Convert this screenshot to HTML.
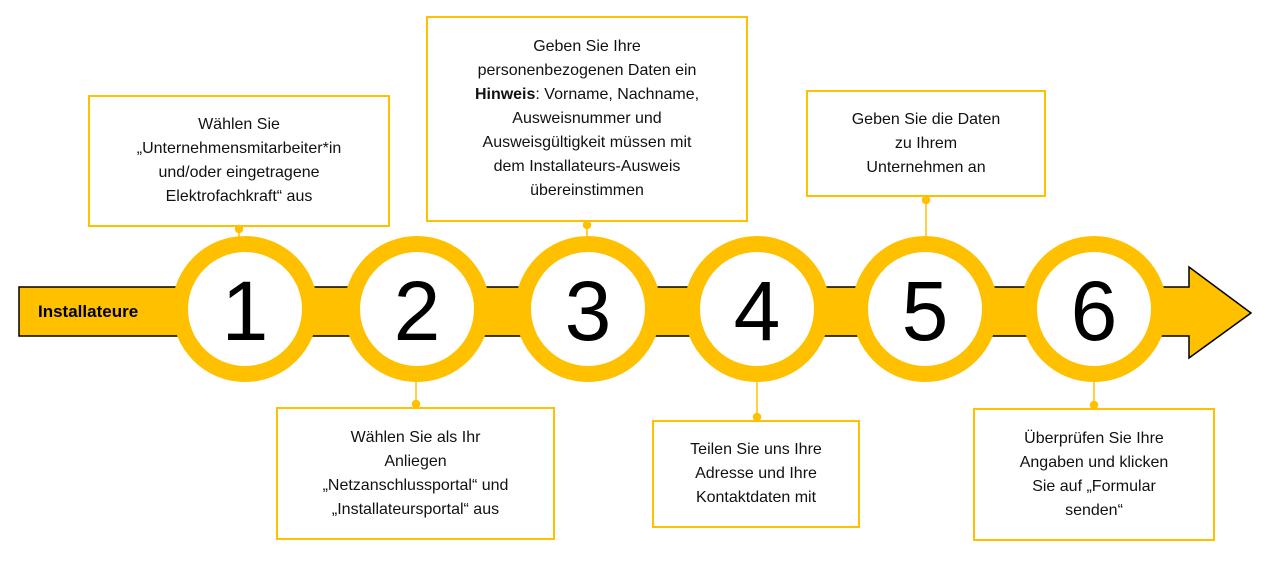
<!DOCTYPE html>
<html><head><meta charset="utf-8"><style>
body{margin:0;width:1280px;height:563px;background:#fff;position:relative;overflow:hidden;font-family:"Liberation Sans",sans-serif}
.b{position:absolute;border:2px solid #FFC000;box-sizing:border-box;display:flex;align-items:center;justify-content:center;text-align:center;font-size:16px;line-height:24px;color:#111}
.b>div{width:100%}
</style></head><body>
<svg width="1280" height="563" style="position:absolute;left:0;top:0">
<g stroke="#FFC000" stroke-width="1.5" fill="#FFC000">
<line x1="239" y1="227" x2="239" y2="240"/><circle cx="239" cy="229" r="3.5"/>
<line x1="587" y1="222" x2="587" y2="240"/><circle cx="587" cy="225" r="3.5"/>
<line x1="926" y1="197" x2="926" y2="240"/><circle cx="926" cy="200" r="3.5"/>
<line x1="416" y1="380" x2="416" y2="407"/><circle cx="416" cy="404" r="3.5"/>
<line x1="757" y1="380" x2="757" y2="420"/><circle cx="757" cy="417" r="3.5"/>
<line x1="1094" y1="380" x2="1094" y2="408"/><circle cx="1094" cy="405" r="3.5"/>
</g>
<polygon points="19,287 1189,287 1189,267 1251,313 1189,358 1189,336 19,336" fill="#FFC000" stroke="#000" stroke-width="1.5"/>
<g fill="#FFC000">
<circle cx="245" cy="309" r="73"/><circle cx="417" cy="309" r="73"/><circle cx="588" cy="309" r="73"/>
<circle cx="757" cy="309" r="73"/><circle cx="925" cy="309" r="73"/><circle cx="1094" cy="309" r="73"/>
</g>
<g fill="#fff">
<circle cx="245" cy="309" r="57"/><circle cx="417" cy="309" r="57"/><circle cx="588" cy="309" r="57"/>
<circle cx="757" cy="309" r="57"/><circle cx="925" cy="309" r="57"/><circle cx="1094" cy="309" r="57"/>
</g>
<g font-family="Liberation Sans, sans-serif" font-size="84" text-anchor="middle" fill="#000">
<text x="245" y="340">1</text><text x="417" y="340">2</text><text x="588" y="340">3</text>
<text x="757" y="340">4</text><text x="925" y="340">5</text><text x="1094" y="340">6</text>
</g>
<text x="38" y="317" font-family="Liberation Sans, sans-serif" font-weight="bold" font-size="17" fill="#000">Installateure</text>
</svg>
<div class="b" style="left:88px;top:95px;width:302px;height:132px"><div>Wählen Sie<br>„Unternehmensmitarbeiter*in<br>und/oder eingetragene<br>Elektrofachkraft“ aus</div></div>
<div class="b" style="left:426px;top:16px;width:322px;height:206px"><div>Geben Sie Ihre<br>personenbezogenen Daten ein<br><b>Hinweis</b>: Vorname, Nachname,<br>Ausweisnummer und<br>Ausweisgültigkeit müssen mit<br>dem Installateurs-Ausweis<br>übereinstimmen</div></div>
<div class="b" style="left:806px;top:90px;width:240px;height:107px"><div>Geben Sie die Daten<br>zu Ihrem<br>Unternehmen an</div></div>
<div class="b" style="left:276px;top:407px;width:279px;height:133px"><div>Wählen Sie als Ihr<br>Anliegen<br>„Netzanschlussportal“ und<br>„Installateursportal“ aus</div></div>
<div class="b" style="left:652px;top:420px;width:208px;height:108px"><div>Teilen Sie uns Ihre<br>Adresse und Ihre<br>Kontaktdaten mit</div></div>
<div class="b" style="left:973px;top:408px;width:242px;height:133px"><div>Überprüfen Sie Ihre<br>Angaben und klicken<br>Sie auf „Formular<br>senden“</div></div>
</body></html>
